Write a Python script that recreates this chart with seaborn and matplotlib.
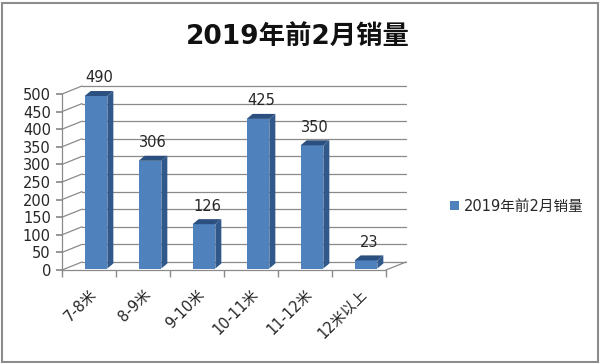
import matplotlib
matplotlib.use('Agg')
import matplotlib.pyplot as plt
import seaborn as sns
import pandas as pd
from matplotlib.patches import Polygon, Rectangle

categories = ['7-8米', '8-9米', '9-10米', '10-11米', '11-12米', '12米以上']
values = [490, 306, 126, 425, 350, 23]
series_name = '2019年前2月销量'
title_text = '2019年前2月销量'
yticks = [0, 50, 100, 150, 200, 250, 300, 350, 400, 450, 500]

sns.set_theme(style='white')
FAM = ['DejaVu Sans', 'Noto Sans CJK SC']
plt.rcParams['font.family'] = FAM

W, H = 600, 363
fig = plt.figure(figsize=(W / 100, H / 100), dpi=100)
fig.patch.set_facecolor('white')
ax = fig.add_axes([62 / W, 93 / H, 324 / W, 176 / H])
ax.set_facecolor('none')

df = pd.DataFrame({'cat': categories, 'val': values})
sns.barplot(data=df, x='cat', y='val', color='#4F81BD', saturation=1,
            width=0.42, ax=ax, zorder=3, edgecolor='none', label=series_name)
ax.set_xlim(-0.5, len(categories) - 0.5)
ax.set_ylim(0, 500)
ax.set_xlabel('')
ax.set_ylabel('')

# pixel -> data scale
px_x = (len(categories)) / 324.0
px_y = 500 / 176.0
DX, DY = 20 * px_x, 8 * px_y        # back wall offset
bdx, bdy = 6 * px_x, 5 * px_y       # bar depth
sx, sy = (DX - bdx) / 2, (DY - bdy) / 2   # bars sit mid-depth

grid_c = '#8a8a8a'
x0, x1 = -0.5, len(categories) - 0.5
for t in yticks:
    ax.plot([x0, x0 + DX], [t, t + DY], color=grid_c, lw=0.9, zorder=1, clip_on=False)
    ax.plot([x0 + DX, x1 + DX], [t + DY, t + DY], color=grid_c, lw=0.9, zorder=1, clip_on=False)
ax.plot([x1, x1 + DX], [0, DY], color=grid_c, lw=0.9, zorder=1, clip_on=False)

# 3D faces for bars
for p in list(ax.patches):
    p.set_x(p.get_x() + sx)
    p.set_y(p.get_y() + sy)
    p.set_clip_on(False)
    x, w, h = p.get_x(), p.get_width(), p.get_height()
    b = p.get_y()
    side = Polygon([(x + w, b), (x + w + bdx, b + bdy), (x + w + bdx, b + h + bdy), (x + w, b + h)],
                   closed=True, fc='#30588a', ec='none', zorder=3, clip_on=False)
    top = Polygon([(x, b + h), (x + bdx, b + h + bdy), (x + w + bdx, b + h + bdy), (x + w, b + h)],
                  closed=True, fc='#2b4f7e', ec='none', zorder=3, clip_on=False)
    ax.add_patch(side)
    ax.add_patch(top)
    ax.annotate(f'{int(h)}', (x + w / 2 + bdx / 2, b + h + bdy), xytext=(0, 4),
                textcoords='offset points', ha='center', va='bottom',
                fontsize=10.5, color='#262626', zorder=5, annotation_clip=False)

for s in ['top', 'right']:
    ax.spines[s].set_visible(False)
for s in ['left', 'bottom']:
    ax.spines[s].set_color(grid_c)
    ax.spines[s].set_linewidth(0.9)
ax.set_yticks(yticks)
ax.set_yticklabels([str(t) for t in yticks], fontsize=10.5, color='#262626')
ax.tick_params(axis='y', length=4, color=grid_c, pad=4, left=True)
ax.set_xticks(range(len(categories)))
ax.set_xticklabels(categories, rotation=45, ha='right', va='top',
                   rotation_mode='anchor', fontsize=10.5, color='#262626')
ax.tick_params(axis='x', which='major', length=0, pad=12)
ax.set_xticks([i - 0.5 for i in range(len(categories) + 1)], minor=True)
ax.tick_params(axis='x', which='minor', length=5, color=grid_c, bottom=True)

ax.legend(loc='center left', bbox_to_anchor=(437 / W, 1 - 206 / H),
          bbox_transform=fig.transFigure, frameon=False, fontsize=10.5,
          handlelength=0.6, handleheight=0.6, handletextpad=0.35,
          labelcolor='#262626')

fig.text(0.497, 1 - 38 / H, title_text, ha='center', va='center',
         fontsize=19, fontweight='bold', color='#111111')

fig.patches.append(Rectangle((1.5 / W, 1.5 / H), 1 - 4 / W, 1 - 4 / H,
                             transform=fig.transFigure, fill=False,
                             ec='#8c8c8c', lw=1.5))

fig.savefig('out.png', dpi=100, facecolor='white')
